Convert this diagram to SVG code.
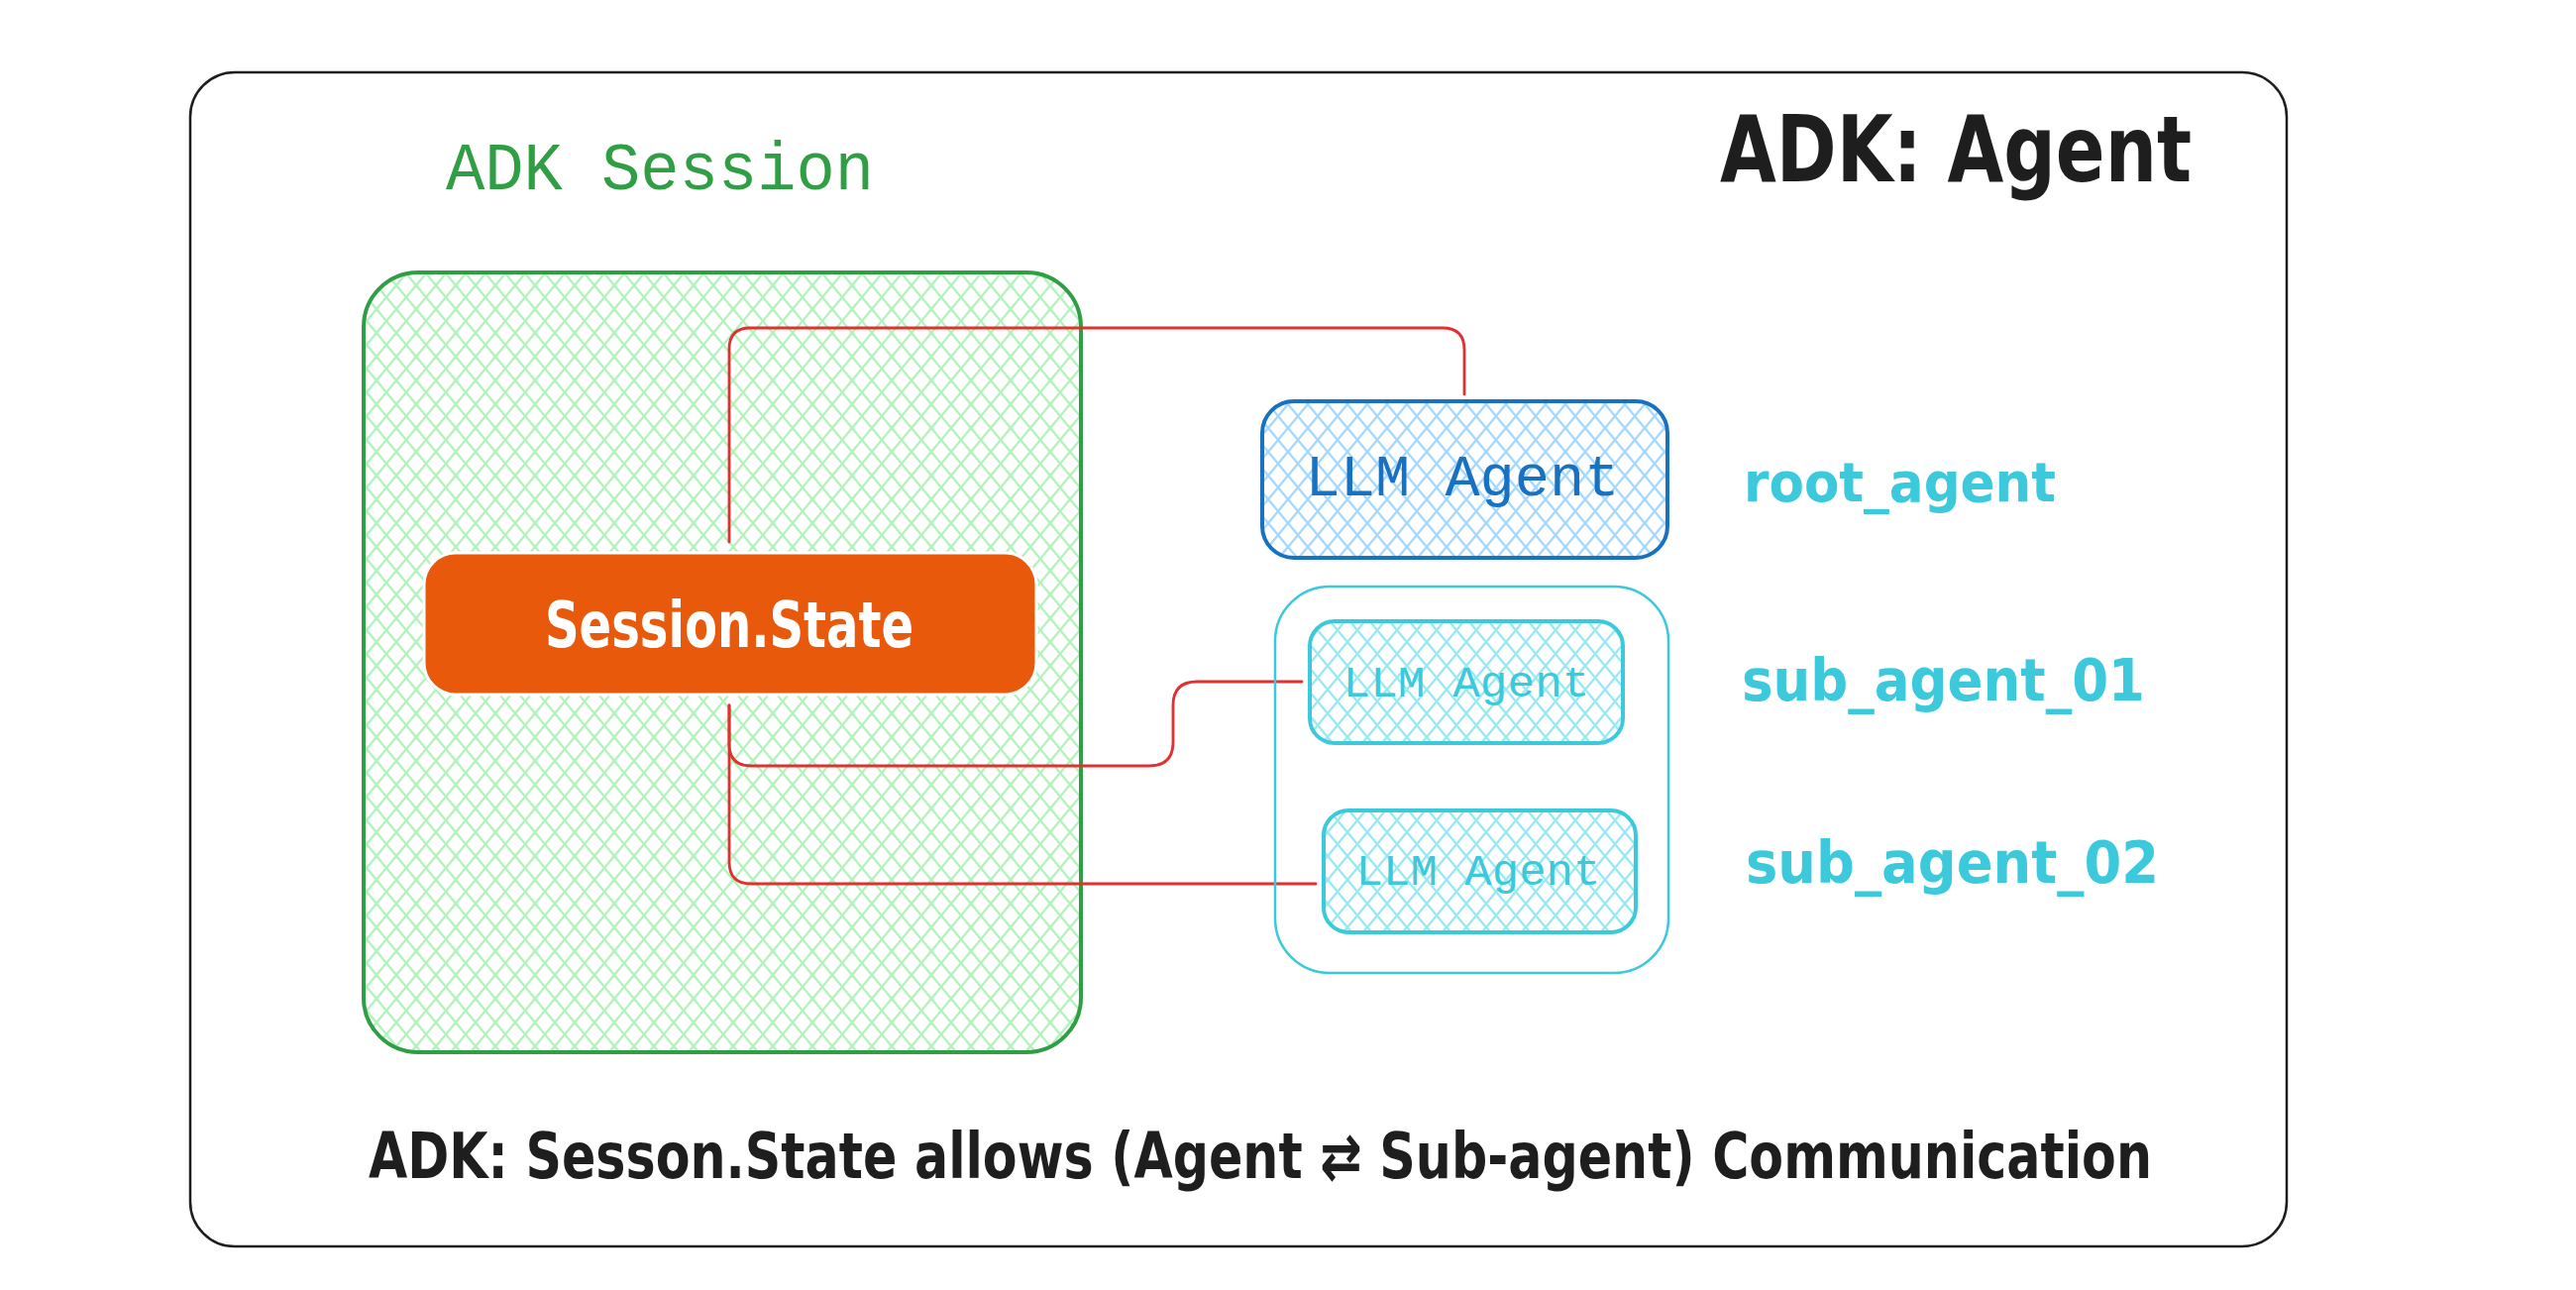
<svg xmlns="http://www.w3.org/2000/svg" width="2600" height="1302" viewBox="0 0 2600 1302">
<defs>
<pattern id="hG" width="20" height="24" patternUnits="userSpaceOnUse"><path d="M0,0 L20,24 M20,0 L0,24" stroke="#b2f2bb" stroke-width="2.4" fill="none"/></pattern>
<pattern id="hB" width="20" height="24" patternUnits="userSpaceOnUse"><path d="M0,0 L20,24 M20,0 L0,24" stroke="#a5d8ff" stroke-width="2.4" fill="none"/></pattern>
<pattern id="hC" width="20" height="24" patternUnits="userSpaceOnUse"><path d="M0,0 L20,24 M20,0 L0,24" stroke="#99e9f2" stroke-width="2.4" fill="none"/></pattern>
</defs>
<style>
.hand{font-family:"Liberation Mono","DejaVu Sans Mono",monospace;}
.bold{font-family:"DejaVu Sans Condensed","DejaVu Sans","Liberation Sans",sans-serif;font-weight:bold;}
.conn{fill:none;stroke:#e03131;stroke-width:2.8;stroke-linecap:round;stroke-linejoin:round;}
</style>
<rect width="2600" height="1302" fill="#ffffff"/>
<g id="frame">
<rect x="192" y="73" width="2116" height="1185" rx="45" fill="none" stroke="#1e1e1e" stroke-width="2.5"/>
<text class="bold" x="1736" y="183" font-size="93" fill="#1e1e1e" textLength="476" lengthAdjust="spacingAndGlyphs">ADK: Agent</text>
<text class="bold" x="372" y="1189" font-size="64" fill="#1e1e1e" textLength="1800" lengthAdjust="spacingAndGlyphs">ADK: Sesson.State allows (Agent ⇄ Sub-agent) Communication</text>
</g>
<g id="adk-session">
<text class="hand" x="450" y="191" font-size="68" fill="#2f9e44" textLength="432" lengthAdjust="spacingAndGlyphs">ADK Session</text>
<rect x="367" y="275" width="724" height="787" rx="55" fill="url(#hG)" stroke="#2f9e44" stroke-width="4"/>
</g>
<g id="connectors">
<path class="conn" d="M736,547 L736,352 Q736,331 757,331 L1456,331 Q1478,331 1478,353 L1478,398"/>
<path class="conn" d="M736,712 L736,751 Q736,773 758,773 L1160,773 Q1184,773 1184,749 L1184,712 Q1184,688 1208,688 L1314,688"/>
<path class="conn" d="M736,712 L736,870 Q736,892 758,892 L1328,892"/>
</g>
<g id="session-state">
<rect x="428" y="558" width="618" height="143" rx="32" fill="#e8590c" stroke="#ffffff" stroke-width="3"/>
<text class="bold" x="736" y="653" font-size="64" fill="#ffffff" text-anchor="middle" textLength="372" lengthAdjust="spacingAndGlyphs">Session.State</text>
</g>
<g id="root-agent">
<rect x="1274" y="405" width="409" height="158" rx="32" fill="url(#hB)" stroke="#1971c2" stroke-width="4"/>
<text class="hand" x="1476" y="500" font-size="59" fill="#1971c2" text-anchor="middle" textLength="317" lengthAdjust="spacingAndGlyphs">LLM Agent</text>
<text class="bold" x="1760" y="506" font-size="56" fill="#3bc9db" textLength="315" lengthAdjust="spacingAndGlyphs">root_agent</text>
</g>
<g id="sub-agents">
<rect x="1287" y="592" width="397" height="390" rx="55" fill="none" stroke="#3bc9db" stroke-width="2.5"/>
</g>
<g id="sub-agent-01">
<rect x="1322" y="627" width="316" height="123" rx="25" fill="url(#hC)" stroke="#3bc9db" stroke-width="4"/>
<text class="hand" x="1480" y="703" font-size="44" fill="#3bc9db" text-anchor="middle" textLength="249" lengthAdjust="spacingAndGlyphs">LLM Agent</text>
<text class="bold" x="1758" y="707" font-size="59" fill="#3bc9db" textLength="407" lengthAdjust="spacingAndGlyphs">sub_agent_01</text>
</g>
<g id="sub-agent-02">
<rect x="1336" y="818" width="315" height="123" rx="25" fill="url(#hC)" stroke="#3bc9db" stroke-width="4"/>
<text class="hand" x="1492" y="893" font-size="44" fill="#3bc9db" text-anchor="middle" textLength="247" lengthAdjust="spacingAndGlyphs">LLM Agent</text>
<text class="bold" x="1762" y="891" font-size="59" fill="#3bc9db" textLength="417" lengthAdjust="spacingAndGlyphs">sub_agent_02</text>
</g>
</svg>
